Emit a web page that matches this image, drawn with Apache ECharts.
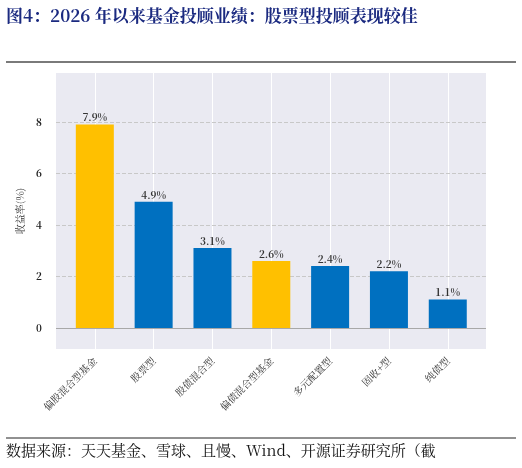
<!DOCTYPE html>
<html><head><meta charset="utf-8">
<script src="https://cdn.jsdelivr.net/npm/echarts@6/dist/echarts.min.js"></script>
<style>html,body{margin:0;padding:0;background:#fff}#c{width:522px;height:468px}</style>
</head><body><div id="c"></div>
<script>
const categories = ['偏股混合型基金','股票型','股债混合型','偏债混合型基金','多元配置型','固收+型','纯债型'];
const values = [7.9, 4.9, 3.1, 2.6, 2.4, 2.2, 1.1];
const colors = ['#FFC000','#0070C0','#0070C0','#FFC000','#0070C0','#0070C0','#0070C0'];
const yTicks = [0, 2, 4, 6, 8];
const xTicks = [0, 1, 2, 3, 4, 5, 6];
const serif = '"Noto Serif CJK SC","Liberation Serif","DejaVu Serif",serif';
const chart = echarts.init(document.getElementById('c'));
chart.setOption({
  animation: false,
  graphic: [
    {type:'text', left: 6, top: 7, style:{text:'图4：2026 年以来基金投顾业绩：股票型投顾表现较佳', font:'bold 17px '+serif, fill:'#1B2A80'}},
    {type:'line', shape:{x1:6,y1:62,x2:516,y2:62}, style:{stroke:'#7a7a7a', lineWidth:2}},
    {type:'line', shape:{x1:6,y1:438,x2:516,y2:438}, style:{stroke:'#222', lineWidth:1}},
    {type:'text', left: 6, top: 443, style:{text:'数据来源：天天基金、雪球、且慢、Wind、开源证券研究所（截', font:'15px '+serif, fill:'#111'}}
  ],
  grid: {left:56, right:36, top:73, bottom:119, show:true, backgroundColor:'#EAEAF2', borderWidth:0},
  xAxis: {type:'value', min:-0.66, max:6.65,
    axisLine:{show:false}, axisTick:{show:false}, splitLine:{show:false},
    axisLabel:{customValues: xTicks, rotate:45, fontSize:10, color:'#333', fontFamily:serif, margin:10,
      formatter: v => categories[Math.round(v)] || ''}
  },
  yAxis: {type:'value', min:-0.82, max:9.9, name:'收益率(%)', nameLocation:'middle', nameGap:26, nameRotate:90,
    nameTextStyle:{fontSize:10, color:'#333', fontFamily:serif},
    axisLine:{show:false}, axisTick:{show:false}, splitLine:{show:false},
    axisLabel:{customValues: yTicks, fontSize:10, fontWeight:'bold', color:'#222', fontFamily:serif, margin:14}
  },
  series: [{
    type:'scatter', data:[], z:1, silent:true,
    markLine:{silent:true, symbol:'none', label:{show:false}, z:1,
      data: xTicks.map(t=>({xAxis:t, lineStyle:{color:'#ffffff', type:'solid', width:1}}))
        .concat(yTicks.map(t=>({yAxis:t, lineStyle:{color: t===0?'#a8a8a8':'#c8c8c8', type: t===0?'solid':'dashed', width:1}})))}
  },{
    type:'bar', barWidth:38, z:3,
    data: values.map((v,i)=>({value:[i,v], itemStyle:{color:colors[i]}})),
    label:{show:true, position:'top', formatter: p => p.value[1].toFixed(1)+'%', fontSize:10, fontWeight:'bold', color:'#333', fontFamily:serif, distance:2}
  }]
});
</script></body></html>
